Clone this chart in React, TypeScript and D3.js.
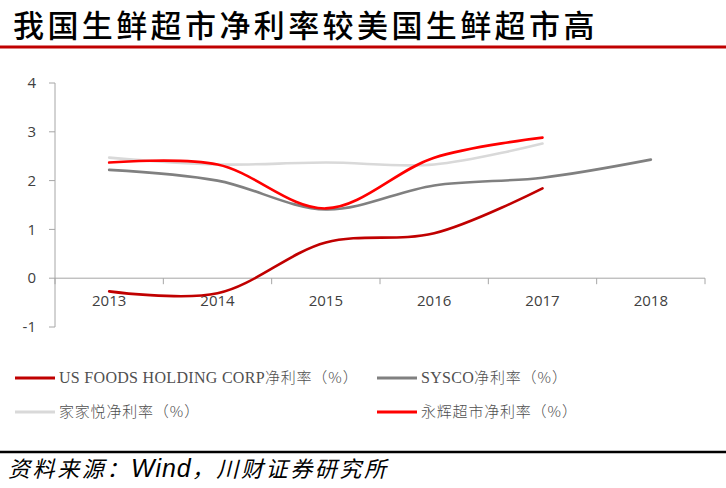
import React from "react";
import * as d3 from "d3";

const years = ["2013", "2014", "2015", "2016", "2017", "2018"];
const yTicks = [-1, 0, 1, 2, 3, 4];

const usFoods = [-0.27, -0.31, 0.73, 0.92, 1.84];
const sysco = [2.22, 2.0, 1.41, 1.9, 2.06, 2.43];
const jiajiayue = [2.47, 2.33, 2.37, 2.33, 2.76];
const yonghui = [2.37, 2.33, 1.43, 2.47, 2.88];

const seriesLatin = ["US FOODS HOLDING CORP", "SYSCO", "", ""];
const seriesCjk = ["净利率", "净利率", "家家悦净利率", "永辉超市净利率"];
const seriesUnit = "（%）";
const seriesColors = ["#C00000", "#808080", "#D9D9D9", "#FF0000"];
const seriesData = [usFoods, sysco, jiajiayue, yonghui];

const W = 726;
const H = 488;

export default function App() {
  const x = d3.scaleBand().domain(years).range([55, 705]).padding(0);
  const y = d3.scaleLinear().domain([-1, 4]).range([327, 83]);
  const cx = (i: number) => (x(years[i]) as number) + x.bandwidth() / 2;
  const line = d3
    .line<number>()
    .x((_, i) => cx(i))
    .y((d) => y(d))
    .curve(d3.curveCatmullRom.alpha(0.5));

  const axisColor = "#A6A6A6";
  const labelColor = "#404040";
  const boundaries = d3.range(years.length + 1).map((i) =>
    i < years.length ? (x(years[i]) as number) : x.range()[1]
  );

  const legendPos = [
    { x: 15, y: 378 },
    { x: 377, y: 378 },
    { x: 15, y: 412 },
    { x: 377, y: 412 },
  ];

  return (
    <svg
      width={W}
      height={H}
      style={{ position: "absolute", left: 0, top: 0, background: "#fff" }}
    >
      <text
        x={13}
        y={37}
        fontFamily="'Noto Sans CJK SC'"
        fontWeight={500}
        fontSize={31}
        letterSpacing={3.4}
        fill="#000"
      >
        我国生鲜超市净利率较美国生鲜超市高
      </text>
      <line x1={0} x2={W} y1={47} y2={47} stroke="#C00000" strokeWidth={3} />

      {/* y axis */}
      <line x1={55} x2={55} y1={y(4)} y2={y(-1)} stroke={axisColor} strokeWidth={1} />
      {yTicks.map((t) => (
        <g key={t}>
          <line x1={49} x2={55} y1={y(t)} y2={y(t)} stroke={axisColor} />
          <text
            x={36}
            y={y(t)}
            dy="0.35em"
            textAnchor="end"
            fontFamily="'Open Sans', sans-serif"
            fontSize={15}
            fill={labelColor}
          >
            {t}
          </text>
        </g>
      ))}

      {/* x axis */}
      <line x1={55} x2={705} y1={y(0)} y2={y(0)} stroke={axisColor} />
      {boundaries.map((b, i) => (
        <line key={i} x1={b} x2={b} y1={y(0)} y2={y(0) + 6} stroke={axisColor} />
      ))}
      {years.map((yr, i) => (
        <text
          key={yr}
          x={cx(i)}
          y={306}
          textAnchor="middle"
          fontFamily="'Open Sans', sans-serif"
          fontSize={15}
          fill={labelColor}
        >
          {yr}
        </text>
      ))}

      {/* lines */}
      {[2, 1, 0, 3].map((k) => (
        <path
          key={k}
          d={line(seriesData[k]) as string}
          fill="none"
          stroke={seriesColors[k]}
          strokeWidth={2.6}
          strokeLinecap="round"
        />
      ))}

      {/* legend */}
      {seriesCjk.map((n, k) => (
        <g key={k}>
          <line
            x1={legendPos[k].x}
            x2={legendPos[k].x + 40}
            y1={legendPos[k].y}
            y2={legendPos[k].y}
            stroke={seriesColors[k]}
            strokeWidth={3}
          />
          <text
            x={legendPos[k].x + 44}
            y={legendPos[k].y}
            dy="0.35em"
            fontFamily="'Liberation Serif', 'Noto Sans CJK SC', serif"
            fontSize={15}
            fill="#505050"
          >
            {seriesLatin[k] ? (
              <tspan fontSize={16} letterSpacing={0.3}>
                {seriesLatin[k]}
              </tspan>
            ) : null}
            <tspan fontFamily="'Noto Sans CJK SC'" fontWeight={300} letterSpacing={0.8}>
              {n}
            </tspan>
            <tspan fontFamily="'Noto Sans CJK SC'" fontWeight={300} letterSpacing={1}>
              {seriesUnit}
            </tspan>
          </text>
        </g>
      ))}

      <line x1={0} x2={W} y1={452} y2={452} stroke="#000" strokeWidth={2.5} />
      <text
        x={8}
        y={477}
        fontFamily="'Noto Sans CJK SC'"
        fontStyle="italic"
        fontSize={22}
        letterSpacing={2.6}
        fill="#000"
      >
        资料来源：
        <tspan
          fontFamily="'Liberation Sans', Arial"
          fontStyle="italic"
          fontSize={25}
          letterSpacing={1}
        >
          Wind
        </tspan>
        ，川财证券研究所
      </text>
    </svg>
  );
}
